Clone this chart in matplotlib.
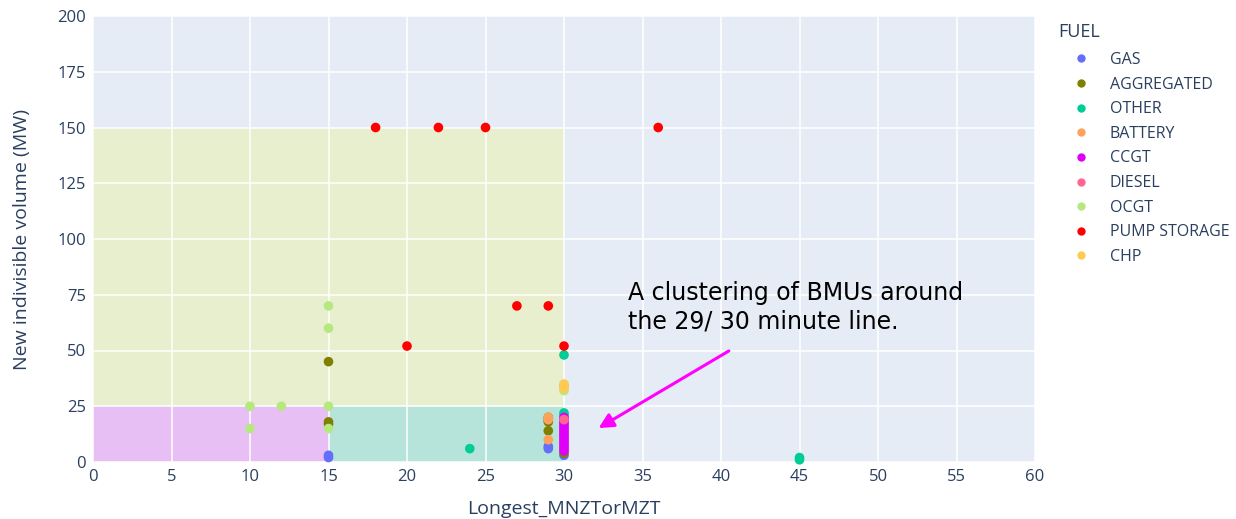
import matplotlib
matplotlib.use("Agg")
import matplotlib.pyplot as plt
from matplotlib.patches import Rectangle
from matplotlib.lines import Line2D

plt.rcParams['font.family'] = ['Open Sans', 'DejaVu Sans']

fuels = ["GAS", "AGGREGATED", "OTHER", "BATTERY", "CCGT", "DIESEL", "OCGT", "PUMP STORAGE", "CHP"]
colors = {"GAS": "#636EFA", "AGGREGATED": "#7F7F00", "OTHER": "#00CC96", "BATTERY": "#FFA15A",
          "CCGT": "#E000F8", "DIESEL": "#FF6692", "OCGT": "#B6E880", "PUMP STORAGE": "#FF0000",
          "CHP": "#FECB52"}

gas_x = [15, 15, 29, 29, 29, 30]
gas_y = [2, 3, 6, 7, 19, 3]
agg_x = [15, 15, 15, 29, 29, 29, 30]
agg_y = [45, 18, 17, 18, 14, 20, 4]
other_x = [24, 30, 30, 30, 45, 45]
other_y = [6, 48, 22, 21, 2, 1]
battery_x = [29, 29, 29, 30]
battery_y = [20, 10, 19, 34]
ccgt_x = [30] * 16
ccgt_y = [5, 6, 7, 8, 9, 10, 11, 12, 13, 14, 15, 16, 17, 18, 19, 20]
diesel_x = [30]
diesel_y = [19]
ocgt_x = [15, 15, 15, 15, 10, 12, 10, 30]
ocgt_y = [70, 60, 25, 15, 25, 25, 15, 32]
pump_x = [18, 22, 25, 36, 27, 29, 20, 30]
pump_y = [150, 150, 150, 150, 70, 70, 52, 52]
chp_x = [30, 30]
chp_y = [35, 33]

series = {"GAS": (gas_x, gas_y), "AGGREGATED": (agg_x, agg_y), "OTHER": (other_x, other_y),
          "BATTERY": (battery_x, battery_y), "CCGT": (ccgt_x, ccgt_y), "DIESEL": (diesel_x, diesel_y),
          "OCGT": (ocgt_x, ocgt_y), "PUMP STORAGE": (pump_x, pump_y), "CHP": (chp_x, chp_y)}

x_ticks = list(range(0, 61, 5))
y_ticks = list(range(0, 201, 25))

txt = "#2a3f5f"
fig = plt.figure(figsize=(12.36, 5.19), dpi=100)
ax = fig.add_axes([93/1236, 57/519, (1035-93)/1236, (462-16)/519])
ax.set_facecolor("#E5ECF6")
ax.set_xlim(0, 60)
ax.set_ylim(0, 200)

# shaded regions
ax.add_patch(Rectangle((0, 25), 30, 125, facecolor="#E8EFCF", edgecolor="none", zorder=0.1))
ax.add_patch(Rectangle((0, 0), 15, 25, facecolor="#E8BFF5", edgecolor="none", zorder=0.1))
ax.add_patch(Rectangle((15, 0), 15, 25, facecolor="#B6E3DA", edgecolor="none", zorder=0.1))

ax.set_axisbelow(True)
ax.grid(True, color="white", linewidth=1.1, zorder=0.5)
ax.set_xticks(x_ticks)
ax.set_yticks(y_ticks)
ax.tick_params(length=0, labelsize=12, labelcolor=txt, pad=5)
for s in ax.spines.values():
    s.set_visible(False)

for f in fuels:
    xs, ys = series[f]
    ax.scatter(xs, ys, s=48, color=colors[f], edgecolors="none", zorder=3, clip_on=False)

ax.set_xlabel("Longest_MNZTorMZT", fontsize=14, color=txt, labelpad=11)
ax.set_ylabel("New indivisible volume (MW)", fontsize=14, color=txt, labelpad=19)

handles = [Line2D([0], [0], marker='o', linestyle='none', markersize=6, markerfacecolor=colors[f],
                  markeredgecolor='none') for f in fuels]
leg = fig.legend(handles, fuels, loc="upper left", bbox_to_anchor=(1073/1236, 1 - 52/519),
                 frameon=False, fontsize=11.5, labelspacing=0.54, handletextpad=1.3,
                 handlelength=1.0, labelcolor=txt, borderaxespad=0, borderpad=0)
fig.text(1058/1236, 1 - 32/519, "FUEL", fontsize=13, color=txt, ha="left", va="center")

ax.text(34.1, 81.0, "A clustering of BMUs around\nthe 29/ 30 minute line.", fontsize=17,
        family=["DejaVu Sans"], color="black", ha="left", va="top", linespacing=1.22)
ax.annotate("", xy=(32.2, 15.2), xytext=(40.5, 49.8),
            arrowprops=dict(arrowstyle="-|>", color="#FF00FF", lw=2.2, mutation_scale=22, shrinkA=0, shrinkB=0))

fig.savefig("out.png", dpi=100)
